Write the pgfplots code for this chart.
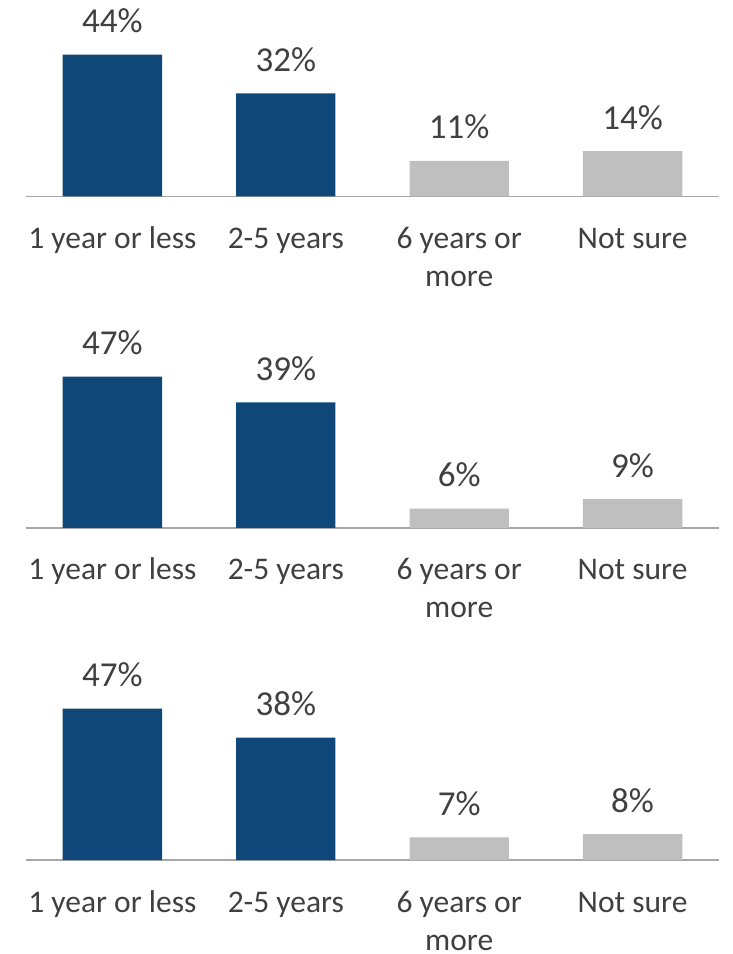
\documentclass[border=0pt]{standalone}
\usepackage{fontspec}
\setmainfont{Carlito}
\usepackage{pgfplots}
\pgfplotsset{compat=1.18}
\definecolor{barblue}{HTML}{0F4878}
\definecolor{bargray}{HTML}{BFBFBF}
\definecolor{txt}{HTML}{404040}
\definecolor{axisgray}{HTML}{A6A6A6}
\pgfplotsset{
  panel/.style={
    scale only axis,
    width=693.6pt, height=161pt,
    xmin=-0.5, xmax=3.5, ymin=0, ymax=50,
    hide y axis,
    axis x line*=bottom,
    axis line style={draw=axisgray, line width=1.5pt, -},
    xtick={0,1,2,3},
    xticklabels={{1 year or less\\\mbox{}},{2-5 years\\\mbox{}},{6 years or\\more},{Not sure\\\mbox{}}},
    major tick length=0pt,
    xticklabel style={font=\fontsize{31.5}{38}\selectfont, text=txt, align=center, anchor=base, inner sep=0pt, yshift=-90pt},
    ybar, bar width=99.3pt, bar shift=0pt,
    point meta=y,
    nodes near coords={\pgfmathprintnumber{\pgfplotspointmeta}\%},
    every node near coord/.append style={font=\fontsize{35}{42}\selectfont, text=txt, anchor=base, inner sep=0pt, yshift=22pt},
    /pgf/number format/assume math mode=true,
    clip=false,
  },
  blueb/.style={fill=barblue, draw=none},
  grayb/.style={fill=bargray, draw=none},
}
\begin{document}
\begin{tikzpicture}[x=1pt,y=1pt]
\useasboundingbox (0,0) rectangle (733,954);
\begin{axis}[panel, at={(25.7pt,757.7pt)}, anchor=south west]
\addplot[blueb] coordinates {(0,44) (1,32)};
\addplot[grayb] coordinates {(2,11) (3,14)};
\end{axis}
\begin{axis}[panel, at={(25.7pt,426pt)}, anchor=south west]
\addplot[blueb] coordinates {(0,47) (1,39)};
\addplot[grayb] coordinates {(2,6) (3,9)};
\end{axis}
\begin{axis}[panel, at={(25.7pt,94pt)}, anchor=south west]
\addplot[blueb] coordinates {(0,47) (1,38)};
\addplot[grayb] coordinates {(2,7) (3,8)};
\end{axis}
\end{tikzpicture}
\end{document}
